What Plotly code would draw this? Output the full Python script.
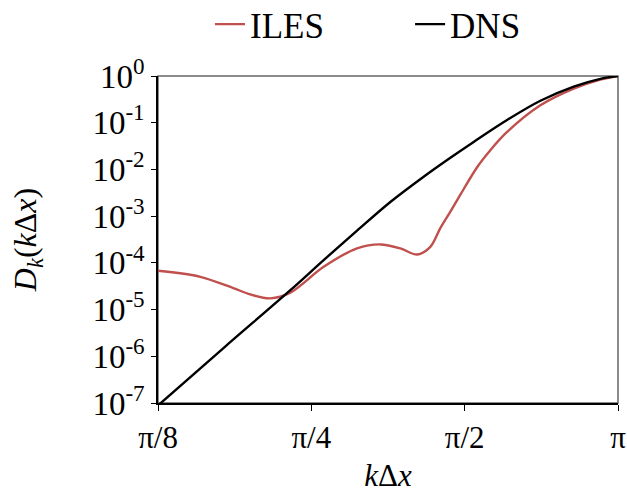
import numpy as np
import plotly.graph_objects as go

PI = np.pi

# DNS dissipation curve (kΔx, D_k)
dns_k = [0.3927, 0.530, 0.7143, 0.8304, 0.9657, 1.1226, 1.305, 1.4726, 1.636, 1.9027,
         2.212, 2.5713, 2.901, 3.1416]
dns_d = [8.85e-8, 1.555e-6, 2.60e-5, 1.146e-4, 4.89e-4, 2.01e-3, 6.99e-3, 1.78e-2, 3.88e-2, 0.114,
         0.295, 0.593, 0.871, 1.0]

# ILES dissipation curve
iles_k = [0.3927, 0.4755, 0.552, 0.596, 0.6525, 0.7143, 0.8304, 0.9657, 1.073, 1.1746,
          1.2667, 1.3451, 1.407, 1.4726, 1.5406, 1.6616, 1.764, 1.9027, 2.212, 2.5713, 2.901, 3.1416]
iles_d = [6.76e-5, 5.03e-5, 2.88e-5, 2.11e-5, 1.74e-5, 2.31e-5, 8.23e-5, 2.04e-4, 2.48e-4, 2.04e-4,
          1.51e-4, 2.20e-4, 5.53e-4, 1.25e-3, 2.88e-3, 1.115e-2, 2.58e-2, 6.34e-2, 0.236, 0.538, 0.838, 1.0]

x_tickvals = [PI / 8, PI / 4, PI / 2, PI]
x_ticktext = ["π/8", "π/4", "π/2", "π"]
y_tickvals = [1e-7, 1e-6, 1e-5, 1e-4, 1e-3, 1e-2, 1e-1, 1e0]
y_ticktext = ["10<sup>-7</sup>", "10<sup>-6</sup>", "10<sup>-5</sup>", "10<sup>-4</sup>",
              "10<sup>-3</sup>", "10<sup>-2</sup>", "10<sup>-1</sup>", "10<sup>0</sup>"]

FONT = "Liberation Serif, Times New Roman, serif"

fig = go.Figure()
fig.add_trace(go.Scatter(x=iles_k, y=iles_d, mode="lines", name="ILES", legend="legend",
                         line=dict(color="#C0504D", width=2.4, shape="spline", smoothing=0.9)))
fig.add_trace(go.Scatter(x=dns_k, y=dns_d, mode="lines", name="DNS", legend="legend2",
                         line=dict(color="#000000", width=2.4, shape="spline", smoothing=1.0)))

fig.add_shape(type="rect", xref="paper", yref="paper", x0=0, x1=1, y0=0, y1=1,
              line=dict(color="#666666", width=1.5), layer="below")

leg_common = dict(orientation="h", xanchor="left", y=1.158, yanchor="middle",
                  font=dict(size=35), bgcolor="rgba(0,0,0,0)")

fig.update_layout(
    width=627, height=498, autosize=False,
    margin=dict(l=158, r=9, t=76, b=95, autoexpand=False),
    paper_bgcolor="white", plot_bgcolor="white",
    font=dict(family=FONT, size=32, color="black"),
    showlegend=True,
    legend=dict(x=0.113, **leg_common),
    legend2=dict(x=0.548, **leg_common),
    xaxis=dict(type="log", range=[np.log10(PI / 8), np.log10(PI)],
               tickvals=x_tickvals, ticktext=x_ticktext,
               ticks="outside", ticklen=6, tickwidth=1.2, tickcolor="black",
               showline=True, linecolor="black", linewidth=1.5,
               showgrid=False, zeroline=False, automargin=False,
               tickfont=dict(size=31),
               title=dict(text="<i>k</i>Δ<i>x</i>", font=dict(size=31), standoff=10)),
    yaxis=dict(type="log", range=[-7, 0],
               tickvals=y_tickvals, ticktext=y_ticktext,
               ticks="outside", ticklen=5, tickwidth=1.2, tickcolor="black",
               showline=True, linecolor="black", linewidth=1.5,
               showgrid=False, zeroline=False, automargin=False,
               tickfont=dict(size=33),
               title=dict(text="<i>D</i><sub><i>k</i></sub>(<i>k</i>Δ<i>x</i>)",
                          font=dict(size=32), standoff=46)),
)

fig.write_html("out.html")
